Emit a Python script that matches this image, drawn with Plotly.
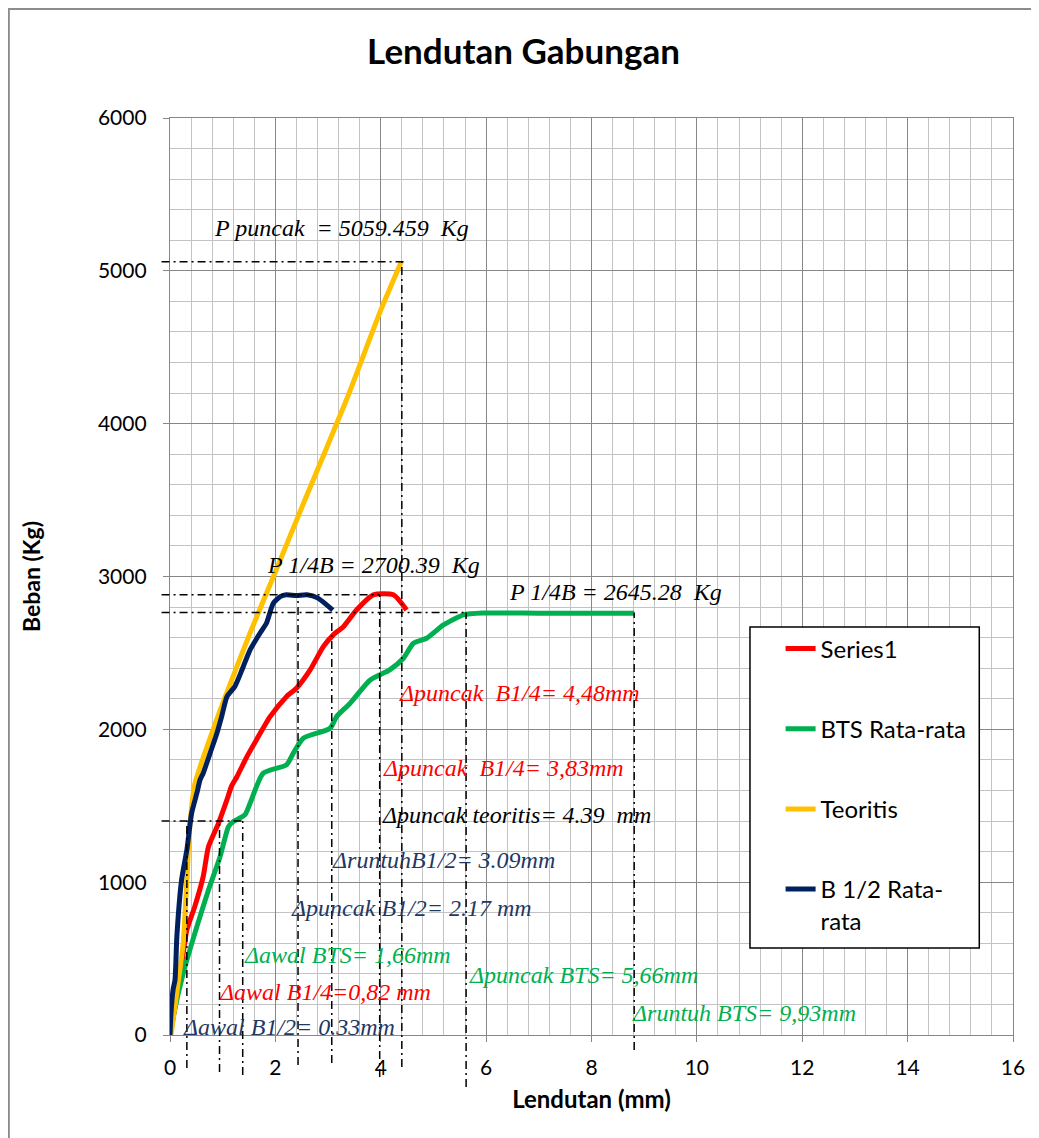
import plotly.graph_objects as go

# ---------------- data ----------------
series1_x = [0, 0.03, 0.19, 0.32, 0.47, 0.63, 0.73, 0.92, 1.08, 1.17, 1.27, 1.46, 1.64, 1.90,
             2.21, 2.40, 2.66, 2.91, 3.10, 3.29, 3.54, 3.86, 4.24, 4.49]
series1_y = [0, 54, 382, 687, 840, 1036, 1232, 1385, 1538, 1630, 1690, 1821, 1931, 2083,
             2214, 2269, 2389, 2541, 2618, 2672, 2781, 2880, 2880, 2781]

bts_x = [0, 0.06, 0.25, 0.51, 0.73, 0.95, 1.11, 1.20, 1.42, 1.52, 1.77, 2.21, 2.34, 2.53,
         3.04, 3.16, 3.42, 3.80, 4.17, 4.43, 4.62, 4.87, 5.19, 5.57, 5.94, 7.00, 8.81]
bts_y = [0, 118, 404, 709, 949, 1167, 1363, 1396, 1440, 1516, 1713, 1767, 1844, 1942,
         2007, 2083, 2171, 2323, 2389, 2465, 2563, 2596, 2683, 2749, 2761, 2760, 2760]

teo_x = [0.02, 0.15, 0.25, 0.32, 0.38, 0.47, 0.57, 0.82, 1.00, 1.52, 1.96, 2.56, 3.35, 3.98, 4.39]
teo_y = [0, 330, 600, 1015, 1385, 1640, 1754, 2000, 2170, 2631, 2997, 3501, 4156, 4725, 5059]

b12_x = [0, 0.02, 0.06, 0.095, 0.13, 0.22, 0.32, 0.41, 0.51, 0.57, 0.63, 0.76, 0.89, 0.98,
         1.08, 1.23, 1.39, 1.52, 1.71, 1.83, 1.96, 2.10, 2.21, 2.40, 2.60, 2.80, 3.09]
b12_y = [0, 150, 300, 360, 643, 1015, 1211, 1451, 1582, 1669, 1713, 1843, 1974, 2083,
         2213, 2280, 2410, 2520, 2630, 2694, 2825, 2870, 2880, 2875, 2880, 2860, 2780]

series_names = ["Series1", "BTS Rata-rata", "Teoritis", "B 1/2 Rata-<br>rata"]
series_colors = ["#FF0000", "#00B050", "#FFC000", "#002060"]

# reference (guide) lines
guide_v_x = [0.32, 0.94, 1.38, 2.43, 3.07, 3.98, 4.40, 5.62, 8.81]
guide_v_top = [1400, 1400, 1400, 2880, 2765, 2880, 5059, 2765, 2765]
guide_v_bottom = [-216, -242, -262, -196, -183, -275, -209, -340, -98]
guide_h_y = [5059, 2880, 2765, 1400]
guide_h_x_end = [4.49, 3.98, 5.62, 1.38]

# annotation texts: (text, x, y, color)
notes = [
    ("P puncak  = 5059.459  Kg", 0.80, 5281, "black"),
    ("P 1/4B = 2700.39  Kg", 1.80, 3076, "black"),
    ("P 1/4B = 2645.28  Kg", 6.39, 2899, "black"),
    ("Δpuncak  B1/4= 4,48mm", 4.31, 2238, "#FF0000"),
    ("Δpuncak  B1/4= 3,83mm", 4.00, 1747, "#FF0000"),
    ("Δpuncak teoritis= 4.39  mm", 3.98, 1440, "black"),
    ("ΔruntuhB1/2= 3.09mm", 3.04, 1145, "#1F3864"),
    ("Δpuncak B1/2= 2.17 mm", 2.26, 831, "#1F3864"),
    ("Δawal BTS= 1,66mm", 1.37, 524, "#00B050"),
    ("Δpuncak BTS= 5,66mm", 5.64, 393, "#00B050"),
    ("Δawal B1/4=0,82 mm", 0.89, 281, "#FF0000"),
    ("Δruntuh BTS= 9,93mm", 8.73, 144, "#00B050"),
    ("Δawal B1/2= 0.33mm", 0.21, 52, "#1F3864"),
    ("Δawal teoritis= 0. mm 38", 0.25, -360, "black"),
]

X_RANGE = [0, 16]
Y_RANGE = [0, 6000]


def xp(x):
    return (x - X_RANGE[0]) / (X_RANGE[1] - X_RANGE[0])


def yp(y):
    return (y - Y_RANGE[0]) / (Y_RANGE[1] - Y_RANGE[0])


fig = go.Figure()
for xs, ys, name, col in zip([series1_x, bts_x, teo_x, b12_x],
                             [series1_y, bts_y, teo_y, b12_y],
                             series_names, series_colors):
    fig.add_trace(go.Scatter(x=xs, y=ys, mode="lines", name=name, legendgroup=name,
                             line=dict(color=col, width=5, shape="spline", smoothing=0.6)))

DASH = "8px,4px,2px,4px"
shapes = []
for gx, gt, gb in zip(guide_v_x, guide_v_top, guide_v_bottom):
    shapes.append(dict(type="line", xref="paper", yref="paper",
                       x0=xp(gx), x1=xp(gx), y0=yp(gb), y1=yp(gt),
                       line=dict(color="black", width=1.5, dash=DASH), layer="above"))
for gy, ge in zip(guide_h_y, guide_h_x_end):
    shapes.append(dict(type="line", xref="paper", yref="paper",
                       x0=-0.01, x1=xp(ge), y0=yp(gy), y1=yp(gy),
                       line=dict(color="black", width=1.5, dash=DASH), layer="above"))
# legend box
shapes.append(dict(type="rect", xref="paper", yref="paper",
                   x0=0.688, x1=0.960, y0=0.0949, y1=0.445,
                   fillcolor="white", line=dict(color="black", width=1.5), layer="above"))
# outer chart border (left and top edges of the chart area)
shapes.append(dict(type="rect", xref="paper", yref="paper",
                   x0=-162 / 843 + 0.001, x1=1.3, y0=-0.3, y1=1 + 110 / 917 - 0.001,
                   line=dict(color="#8c8c8c", width=2), fillcolor="rgba(0,0,0,0)", layer="below"))

annotations = []
for t, x, y, c in notes:
    annotations.append(dict(text=t, x=x, y=y, xref="x", yref="y", xanchor="left", yanchor="middle",
                            showarrow=False,
                            font=dict(family="Liberation Serif", size=24, color=c, style="italic")))

fig.update_layout(
    width=1031, height=1130,
    margin=dict(l=162, r=26, t=110, b=103),
    paper_bgcolor="white", plot_bgcolor="white",
    title=dict(text="<b>Lendutan Gabungan</b>", x=0.5, xanchor="center", y=0.961, yanchor="middle",
               font=dict(family="Lato", size=35, color="black")),
    font=dict(family="Lato", size=21, color="black"),
    shapes=shapes,
    annotations=annotations,
    showlegend=True,
    legend=dict(x=0.7243, y=0.4456, xanchor="left", yanchor="top", bgcolor="rgba(0,0,0,0)",
                borderwidth=0, font=dict(family="Lato", size=24, color="black"),
                tracegroupgap=46, valign="top", traceorder="grouped"),
)

fig.update_xaxes(range=X_RANGE, dtick=2, tick0=0, showgrid=True, gridcolor="#878787", gridwidth=1.3,
                 minor=dict(dtick=0.4, showgrid=True, gridcolor="#c3c3c3", gridwidth=1.3),
                 showline=True, linecolor="#878787", linewidth=1.3, mirror=True,
                 ticks="outside", ticklen=6, tickcolor="#878787", zeroline=False,
                 tickfont=dict(family="Lato", size=21), ticklabelstandoff=8,
                 title=dict(text="<b>Lendutan (mm)</b>", font=dict(family="Lato", size=24), standoff=12))
fig.update_yaxes(range=Y_RANGE, dtick=1000, tick0=0, showgrid=True, gridcolor="#878787", gridwidth=1.3,
                 minor=dict(dtick=200, showgrid=True, gridcolor="#c3c3c3", gridwidth=1.3),
                 showline=True, linecolor="#878787", linewidth=1.3, mirror=True,
                 ticks="outside", ticklen=6, tickcolor="#878787", zeroline=False,
                 tickfont=dict(family="Lato", size=21), ticklabelstandoff=12,
                 title=dict(text="<b>Beban (Kg)</b>", font=dict(family="Lato", size=23), standoff=50))

fig.write_html("out.html")
